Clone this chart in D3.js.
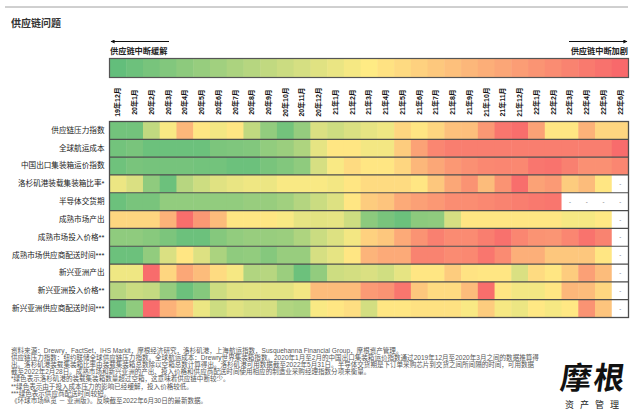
<!DOCTYPE html>
<html>
<head>
<meta charset="utf-8">
<script src="https://cdn.jsdelivr.net/npm/d3@7"></script>
<style>
  body { margin: 0; background: #fff; }
  svg { font-family: "Liberation Sans", "Noto Sans CJK SC", sans-serif; }
</style>
</head>
<body>
<div id="chart"></div>
<script>
// months (columns)
const months = ['19年12月','20年1月','20年2月','20年3月','20年4月','20年5月','20年6月','20年7月',
  '20年8月','20年9月','20年10月','20年11月','20年12月','21年1月','21年2月','21年3月',
  '21年4月','21年5月','21年6月','21年7月','21年8月','21年9月','21年10月','21年11月',
  '21年12月','22年1月','22年2月','22年3月','22年4月','22年5月','22年6月'];

const rowLabels = ['供应链压力指数','全球航运成本','中国出口集装箱运价指数','洛杉矶港装载集装箱比率*',
  '半导体交货期','成熟市场产出','成熟市场投入价格**','成熟市场供应商配送时间***',
  '新兴亚洲产出','新兴亚洲投入价格**','新兴亚洲供应商配送时间***'];

// 0 = less disruption (green), 100 = more disruption (red); null = no data
const pressureIndex = [5,5,30,48,70,52,46,52, 30,15,5,16,38,34,38,42, 45,58,52,58,66,67,82,95, 98,78,52,52,72,58,58];
const shippingCost = [5,7,3,3,3,3,8,9, 10,15,18,24,42,52,52,46, 46,62,78,89,92,92,92,92, 92,92,92,92,92,92,99];
const chinaFreight = [4,7,6,6,6,5,5,3, 3,7,10,14,37,48,56,52, 52,58,70,76,82,85,88,89, 88,95,96,91,85,85,89];
const laPortRatio = [44,38,14,3,27,34,40,43, 45,44,48,48,48,46,52,56, 56,56,52,64,76,84,68,84, 98,78,81,62,68,52,null];
const chipLeadTime = [3,7,7,15,15,15,15,15, 17,17,20,26,33,39,52,62, 65,75,79,82,86,86,88,90, 92,94,95,null,null,null,null];
const dmOutput = [58,58,58,72,98,82,68,52, 52,52,48,42,41,42,34,13, 7,3,13,14,37,52,52,52, 52,52,52,47,47,51,null];
const dmInputPrice = [14,14,12,8,3,3,11,15, 17,17,18,24,33,39,46,60, 64,75,84,91,87,87,92,97, 89,84,83,89,96,90,null];
const dmDelivery = [3,3,15,38,52,39,23,14, 15,11,17,17,37,42,52,71, 75,75,90,90,87,88,95,87, 73,73,64,64,64,52,null];
const asiaOutput = [45,45,99,58,76,68,56,47, 25,27,18,3,15,34,36,38, 35,42,52,52,62,53,52,52, 38,56,52,62,79,68,null];
const asiaInputPrice = [27,33,31,16,3,11,34,40, 41,41,41,46,68,68,68,81, 84,95,64,56,56,68,98,52, 46,46,52,70,68,58,null];
const asiaDelivery = [3,14,99,72,64,44,34,40, 37,37,25,23,48,52,55,36, 52,52,54,54,54,48,62,47, 44,51,47,51,84,65,null];

const series = [pressureIndex, shippingCost, chinaFreight, laPortRatio, chipLeadTime, dmOutput,
  dmInputPrice, dmDelivery, asiaOutput, asiaInputPrice, asiaDelivery];

const footnotes = [
  '资料来源：Drewry，FactSet，IHS Markit，摩根经济研究，洛杉矶港，上海航运指数，Susquehanna Financial Group，摩根资产管理。',
  '供应链压力指数：纽约联储全球供应链压力指数。全球航运成本：Drewry世界集装箱指数。2020年1月至2月的中国出口集装箱运价指数通过2019年12月至2020年3月之间的数据推算得',
  '出。洛杉矶港装载集装箱比率由装载集装箱总数除以空箱总数计算得出。洛杉矶港可用数据截至2022年5月31日。半导体交货期是下订单采购芯片到交货之间所间隔的时间，可用数据',
  '截至2022年2月28日。成熟市场和新兴亚洲的产出、投入价格和供应商配送时间使用相应的制造业采购经理指数分项来衡量。',
  '*绿色表示洛杉矶港的装载集装箱数量超过空箱，这意味着供应链中断较少。',
  '**绿色表示由于投入成本压力的影响已经缓解，投入价格较低。',
  '***绿色表示供应商配送时间较短。',
  '《环球市场纵览 － 亚洲版》。反映截至2022年6月30日的最新数据。'
];

const width = 640, height = 420;
const grid = { left: 109.5, right: 628.5, top: 121.5, bottom: 317.5 };

const svg = d3.select('#chart').append('svg')
  .attr('width', width)
  .attr('height', height);

// excel style 3 colour scale
const color = d3.scaleLinear()
  .domain([0, 50, 100])
  .range(['#63BE7B', '#FFEB84', '#F8696B']);

const x = d3.scaleBand().domain(months).range([grid.left, grid.right]);
const y = d3.scaleBand().domain(rowLabels).range([grid.top, grid.bottom]);

// top rule + title
svg.append('line')
  .attr('x1', 5).attr('x2', 628).attr('y1', 7).attr('y2', 7)
  .attr('stroke', '#a0a0a0').attr('stroke-width', 1);

svg.append('text')
  .attr('x', 11).attr('y', 27)
  .attr('font-size', 10).attr('font-weight', 'bold').attr('fill', '#333')
  .text('供应链问题');

// arrows
const defs = svg.append('defs');
defs.append('marker')
  .attr('id', 'arrow')
  .attr('viewBox', '0 0 10 10')
  .attr('refX', 9).attr('refY', 5)
  .attr('markerWidth', 5).attr('markerHeight', 4)
  .attr('orient', 'auto-start-reverse')
  .append('path').attr('d', 'M0,0L10,5L0,10z').attr('fill', '#111');

svg.append('line')
  .attr('x1', 169).attr('x2', 111).attr('y1', 41.5).attr('y2', 41.5)
  .attr('stroke', '#111').attr('stroke-width', 1)
  .attr('marker-end', 'url(#arrow)');
svg.append('line')
  .attr('x1', 569).attr('x2', 627).attr('y1', 41.5).attr('y2', 41.5)
  .attr('stroke', '#111').attr('stroke-width', 1)
  .attr('marker-end', 'url(#arrow)');

svg.append('text')
  .attr('x', 110).attr('y', 54)
  .attr('font-size', 8.2).attr('font-weight', 'bold').attr('fill', '#222')
  .text('供应链中断缓解');
svg.append('text')
  .attr('x', 628).attr('y', 54).attr('text-anchor', 'end')
  .attr('font-size', 8.2).attr('font-weight', 'bold').attr('fill', '#222')
  .text('供应链中断加剧');

// legend ramp, one step per column
const ramp = months.map((m, i) => ({ m: m, v: i / (months.length - 1) * 100 }));
svg.append('g').selectAll('rect')
  .data(ramp)
  .enter().append('rect')
  .attr('x', d => x(d.m))
  .attr('y', 58.5)
  .attr('width', x.bandwidth() + 0.5)
  .attr('height', 19)
  .attr('fill', d => color(d.v));
svg.append('rect')
  .attr('x', grid.left).attr('y', 58.5)
  .attr('width', grid.right - grid.left).attr('height', 19)
  .attr('fill', 'none').attr('stroke', '#555').attr('stroke-width', 1.2);

// column labels
const xAxis = svg.append('g')
  .attr('transform', 'translate(0,102)')
  .call(d3.axisTop(x).tickSize(0).tickPadding(0));
xAxis.select('.domain').remove();
xAxis.selectAll('text')
  .attr('transform', 'rotate(-90)')
  .attr('x', 0).attr('y', 0).attr('dy', '0.35em')
  .attr('text-anchor', 'middle')
  .attr('font-size', 7).attr('font-weight', 'bold').attr('fill', '#111')
  .attr('font-family', '"Liberation Sans", "Noto Sans CJK SC", sans-serif');

// row labels
const yAxis = svg.append('g')
  .attr('transform', `translate(${grid.left - 5},0)`)
  .call(d3.axisLeft(y).tickSize(0).tickPadding(0));
yAxis.select('.domain').remove();
yAxis.selectAll('text')
  .attr('font-size', 7.6).attr('fill', '#222')
  .attr('font-family', '"Liberation Sans", "Noto Sans CJK SC", sans-serif');

// heatmap cells
const cells = [];
series.forEach((vals, r) => {
  vals.forEach((v, c) => cells.push({ row: rowLabels[r], month: months[c], v: v }));
});

svg.append('g').selectAll('rect')
  .data(cells)
  .enter().append('rect')
  .attr('x', d => x(d.month))
  .attr('y', d => y(d.row))
  .attr('width', x.bandwidth() + 0.5)
  .attr('height', y.bandwidth())
  .attr('fill', d => d.v === null ? '#fff' : color(d.v));

svg.append('g').selectAll('text')
  .data(cells.filter(d => d.v === null))
  .enter().append('text')
  .attr('x', d => x(d.month) + x.bandwidth() / 2)
  .attr('y', d => y(d.row) + y.bandwidth() / 2)
  .attr('dy', '0.35em')
  .attr('text-anchor', 'middle')
  .attr('font-size', 6).attr('fill', '#555')
  .text('-');

// row separators + border
svg.append('g').selectAll('line')
  .data(rowLabels.slice(1))
  .enter().append('line')
  .attr('x1', grid.left).attr('x2', grid.right)
  .attr('y1', d => y(d)).attr('y2', d => y(d))
  .attr('stroke', '#4d4d4d').attr('stroke-width', 1.2);
svg.append('rect')
  .attr('x', grid.left).attr('y', grid.top)
  .attr('width', grid.right - grid.left).attr('height', grid.bottom - grid.top)
  .attr('fill', 'none').attr('stroke', '#4d4d4d').attr('stroke-width', 1.3);

// footnotes
svg.append('g').selectAll('text')
  .data(footnotes)
  .enter().append('text')
  .attr('x', 11)
  .attr('y', (d, i) => 353 + i * 7.1)
  .attr('font-size', 6.55).attr('fill', '#555')
  .text(d => d);

// logo
svg.append('text')
  .attr('x', 592).attr('y', 389)
  .attr('text-anchor', 'middle')
  .attr('font-size', 31).attr('font-weight', 'bold').attr('fill', '#111')
  .attr('font-family', '"Noto Sans CJK SC", sans-serif')
  .attr('letter-spacing', 2)
  .attr('transform', 'skewX(-8) translate(55,0)')
  .text('摩根');
svg.append('text')
  .attr('x', 595).attr('y', 408)
  .attr('text-anchor', 'middle')
  .attr('font-size', 9).attr('fill', '#222')
  .attr('font-family', '"Noto Sans CJK SC", sans-serif')
  .attr('letter-spacing', 6)
  .text('资产管理');
</script>
</body>
</html>
